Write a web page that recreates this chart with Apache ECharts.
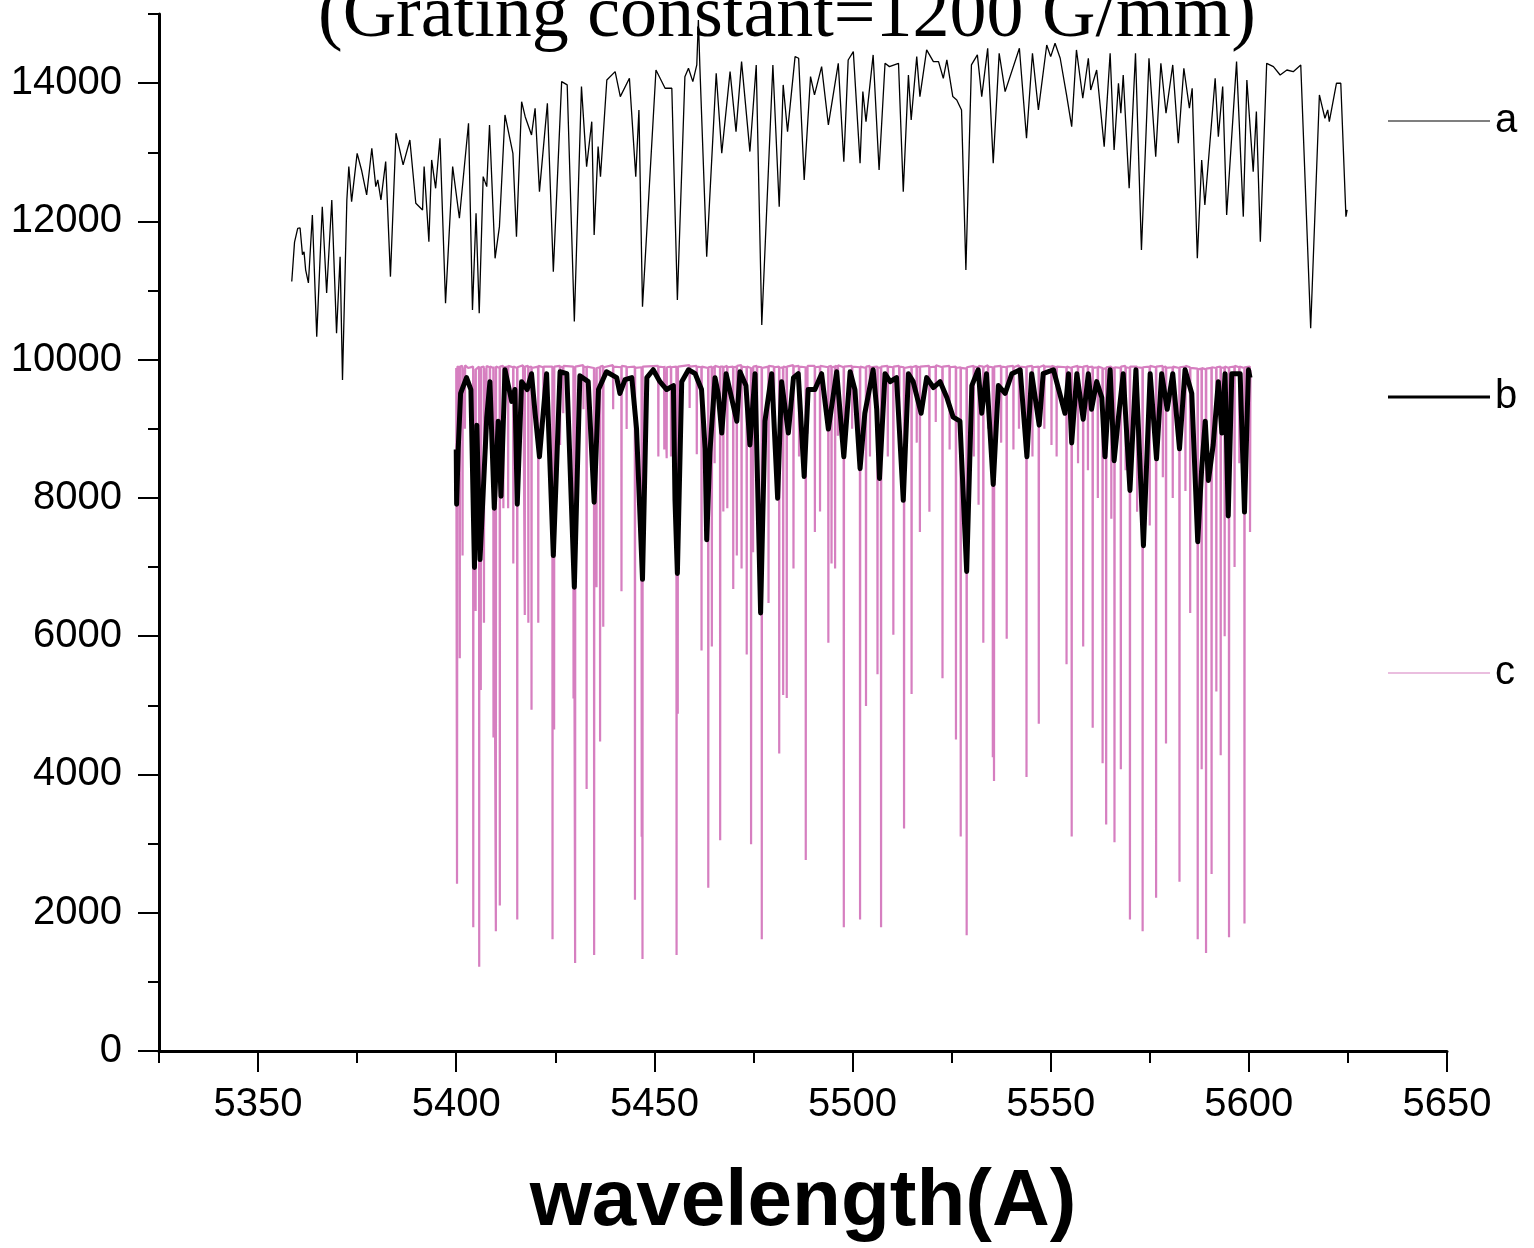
<!DOCTYPE html>
<html>
<head>
<meta charset="utf-8">
<script src="https://cdn.jsdelivr.net/npm/echarts@6/dist/echarts.min.js"></script>
<style>
html,body{margin:0;padding:0;background:#fff;}
#chart{width:1534px;height:1248px;}
</style>
</head>
<body>
<div id="chart"></div>
<script>
// ---- data (wavelength in Angstrom, intensity) ----
var titleText = '(Grating constant=1200 G/mm)';
var xName = 'wavelength(A)';
var seriesNames = ['a', 'b', 'c'];
var yMajorTicks = [0, 2000, 4000, 6000, 8000, 10000, 12000, 14000];
var xMajorTicks = [5350, 5400, 5450, 5500, 5550, 5600, 5650];

var aData = [
[5358.5,11130],[5359.2,11700],[5360.0,11900],[5360.6,11905],[5361.2,11520],[5361.6,11560],[5362.0,11300],[5362.7,11110],
[5363.7,12093],[5364.8,10333],[5366.2,12213],[5367.3,10964],[5368.6,12310],[5369.8,10383],[5370.7,11490],[5371.3,9706],
[5372.4,12310],[5372.9,12792],[5373.6,12286],[5375.0,12985],[5376.1,12744],[5377.4,12382],[5378.7,13058],[5379.7,12503],
[5380.2,12600],[5381.0,12310],[5382.2,12865],[5383.4,11201],[5384.8,13275],[5386.6,12817],[5388.3,13178],[5389.8,12262],
[5391.5,12166],[5391.9,12792],[5393.1,11707],[5393.8,12889],[5394.8,12479],[5395.9,13202],[5397.3,10816],[5399.1,12792],
[5400.8,12045],[5403.1,13419],[5404.1,10719],[5405.0,12117],[5405.8,10671],[5406.8,12648],[5407.7,12503],[5408.4,13395],
[5409.8,11466],[5410.9,11924],[5412.3,13540],[5414.3,12985],[5415.2,11779],[5416.5,13732],[5417.4,13515],[5419.0,13251],
[5419.9,13636],[5421.0,12431],[5423.0,13708],[5424.5,11273],[5426.6,14022],[5428.0,13974],[5429.8,10551],[5431.6,13950],
[5432.9,12792],[5434.2,13443],[5434.8,11804],[5435.8,13082],[5436.4,12648],[5438.0,14046],[5440.1,14166],[5441.4,13805],
[5443.7,14070],[5445.3,12648],[5446.1,13612],[5447.0,10767],[5450.4,14190],[5452.7,13926],[5454.4,13926],[5455.8,10864],
[5457.7,14094],[5458.6,14215],[5459.7,14022],[5460.7,14263],[5461.1,14914],[5461.5,14200],[5463.2,11490],[5465.6,14142],
[5467.0,12985],[5469.1,14166],[5470.6,13299],[5472.0,14311],[5474.1,13010],[5475.7,14263],[5477.1,10502],[5479.9,14263],
[5481.5,12213],[5482.5,13974],[5483.6,13299],[5485.5,14384],[5486.4,14360],[5487.8,12600],[5489.4,14094],[5490.4,13829],
[5492.2,14239],[5493.9,13395],[5496.4,14287],[5497.8,12865],[5498.9,14335],[5500.2,14456],[5501.9,12841],[5502.6,13877],
[5503.4,13443],[5505.2,14408],[5506.7,12744],[5508.2,14287],[5509.3,14239],[5511.6,14287],[5512.8,12431],[5514.1,14118],
[5514.8,13467],[5516.2,14384],[5517.0,13805],[5518.7,14480],[5520.4,14311],[5521.7,14311],[5522.9,14070],[5523.8,14335],
[5525.3,13805],[5526.3,13757],[5527.5,13612],[5528.6,11298],[5530.0,14263],[5531.5,14408],[5532.6,13805],[5534.1,14504],
[5535.5,12841],[5537.0,14432],[5538.5,13877],[5542.1,14504],[5543.9,13202],[5545.4,14432],[5546.9,13612],[5549.0,14552],
[5550.0,14384],[5551.1,14576],[5552.4,14360],[5554.0,13829],[5555.3,13371],[5556.5,14480],[5558.1,13781],[5559.5,14360],
[5560.1,13900],[5561.6,14190],[5563.5,13082],[5565.0,14432],[5566.0,13034],[5567.1,13998],[5567.7,13564],[5568.3,14118],
[5569.8,12479],[5571.4,14432],[5572.9,11587],[5574.8,14360],[5576.5,12937],[5577.8,14287],[5579.1,13564],[5580.8,14263],
[5582.2,13130],[5583.6,14215],[5585.0,13637],[5585.7,13926],[5587.0,11466],[5588.1,12889],[5588.9,12238],[5591.5,14070],
[5592.3,13226],[5593.4,13950],[5594.4,12093],[5596.9,14311],[5598.6,12069],[5599.5,14046],[5601.1,12720],[5601.9,13588],
[5602.9,11707],[5604.5,14287],[5606.2,14239],[5607.9,14118],[5609.6,14190],[5611.2,14166],[5613.1,14263],[5615.6,10454],
[5617.8,13829],[5618.5,13661],[5619.2,13492],[5619.9,13612],[5620.3,13443],[5622.1,13998],[5623.2,13998],[5624.5,12069],
[5624.8,12166]
];

var bData = [
[5400.0,8700],[5400.1,7909],[5400.5,8710],[5401.1,9511],[5402.6,9740],[5403.7,9568],[5404.6,6994],[5405.2,9053],
[5406.0,7108],[5407.7,9168],[5408.5,9682],[5409.6,7852],[5410.6,9110],[5411.3,8024],[5412.3,9854],[5414.0,9396],
[5414.8,9568],[5415.4,7909],[5416.5,9682],[5417.9,9568],[5419.0,9797],[5419.9,9225],[5421.0,8596],[5422.8,9797],
[5424.5,7166],[5426.2,9825],[5427.9,9797],[5429.8,6708],[5431.2,9768],[5433.3,9682],[5434.8,7938],[5435.9,9568],
[5437.9,9825],[5440.5,9740],[5441.3,9511],[5442.6,9711],[5444.3,9740],[5445.5,8996],[5447.0,6822],[5448.1,9740],
[5449.7,9854],[5451.4,9682],[5453.1,9568],[5454.8,9625],[5455.2,7966],[5455.8,6908],[5456.9,9682],[5458.6,9854],
[5460.3,9797],[5461.9,9568],[5462.8,8710],[5463.2,7394],[5464.0,8653],[5465.3,9740],[5466.1,9511],[5467.0,8939],
[5468.1,9797],[5470.8,9110],[5471.6,9825],[5473.1,9625],[5474.1,8767],[5475.4,9797],[5476.8,6336],[5477.9,9110],
[5479.6,9797],[5481.1,7995],[5482.1,9682],[5483.8,8939],[5485.1,9740],[5486.3,9797],[5487.8,8310],[5488.8,9568],
[5490.5,9568],[5492.2,9797],[5493.9,8996],[5496.0,9825],[5497.8,8596],[5499.4,9825],[5500.6,9568],[5501.9,8424],
[5503.1,9225],[5505.2,9854],[5506.1,9282],[5506.8,8281],[5508.2,9797],[5509.5,9682],[5511.1,9740],[5512.8,7966],
[5514.1,9797],[5515.3,9682],[5517.3,9225],[5518.7,9740],[5520.4,9597],[5522.1,9682],[5523.8,9454],[5525.4,9168],
[5527.1,9110],[5528.8,6937],[5530.1,9625],[5531.7,9854],[5532.6,9225],[5533.8,9797],[5535.5,8195],[5536.8,9625],
[5538.5,9511],[5540.2,9797],[5542.3,9854],[5544.0,8596],[5545.2,9797],[5547.1,9053],[5548.1,9797],[5550.7,9854],
[5553.6,9225],[5554.5,9797],[5555.3,8796],[5556.6,9797],[5558.2,9139],[5559.5,9797],[5560.3,9282],[5561.6,9682],
[5562.9,9454],[5563.7,8596],[5565.0,9854],[5566.0,8538],[5567.1,9168],[5568.3,9797],[5570.0,8109],[5571.5,9854],
[5573.4,7309],[5575.1,9797],[5576.7,8567],[5578.0,9797],[5579.4,9282],[5580.8,9797],[5582.5,8710],[5583.9,9854],
[5585.6,9511],[5587.1,7366],[5588.1,8424],[5589.0,9110],[5589.8,8252],[5591.0,8767],[5592.3,9682],[5593.2,8939],
[5594.0,9797],[5594.8,7738],[5595.7,9797],[5597.8,9797],[5598.9,7795],[5599.9,9854],[5600.3,9740]
];

var cData = [
[5400.0,9880],[5400.2,2418],[5400.3,9900],[5400.85,9890],[5400.9,5680],[5400.95,9900],
[5401.55,9910],[5401.6,7166],[5401.65,9890],[5402.15,9900],[5402.2,9000],[5402.25,9920],
[5403.0,9880],[5404.25,9900],[5404.3,1789],[5404.35,9870],[5404.85,9880],[5404.9,6366],[5404.95,9860],
[5405.75,9900],[5405.8,1217],[5405.85,9880],[5406.15,9870],[5406.2,5221],[5406.25,9890],
[5406.95,9900],[5407.0,6193],[5407.05,9880],[5407.55,9900],[5407.6,8710],[5407.65,9910],
[5408.45,9890],[5408.5,8996],[5408.55,9900],[5409.35,9880],[5409.4,4534],[5409.45,9900],
[5409.95,9890],[5410.0,1732],[5410.05,9900],[5410.95,9880],[5411.0,2104],[5411.05,9900],
[5411.85,9910],[5411.9,7852],[5411.95,9890],[5413.05,9900],[5413.1,7852],[5413.15,9910],
[5414.35,9890],[5414.4,7051],[5414.45,9900],[5415.35,9880],[5415.4,1903],[5415.45,9890],
[5416.85,9920],[5416.9,9225],[5416.95,9900],[5417.25,9890],[5417.3,6308],[5417.35,9900],
[5418.15,9910],[5418.2,6193],[5418.25,9890],[5418.95,9900],[5419.0,4935],[5419.05,9880],
[5420.65,9900],[5420.7,6193],[5420.75,9910],[5421.95,9890],[5422.0,9282],[5422.05,9900],
[5424.25,9900],[5424.3,1617],[5424.35,9880],[5424.65,9890],[5424.7,4650],[5424.75,9900],
[5426.15,9910],[5426.2,8767],[5426.25,9900],[5426.95,9890],[5427.0,9225],[5427.05,9910],
[5429.55,9900],[5429.6,5100],[5429.65,9890],[5429.95,9880],[5430.0,1274],[5430.05,9900],
[5432.05,9920],[5432.1,9282],[5432.15,9900],[5432.85,9890],[5432.9,3791],[5432.95,9900],
[5434.75,9880],[5434.8,1388],[5434.85,9890],[5435.35,9900],[5435.4,6708],[5435.45,9880],
[5436.25,9890],[5436.3,4477],[5436.35,9900],[5437.05,9910],[5437.1,6136],[5437.15,9890],
[5439.55,9920],[5439.6,9282],[5439.65,9900],[5441.65,9890],[5441.7,6651],[5441.75,9910],
[5442.95,9900],[5443.0,8996],[5443.05,9890],[5445.05,9900],[5445.1,2189],[5445.15,9880],
[5446.75,9890],[5446.8,3100],[5446.85,9880],[5446.95,9870],[5447.0,1331],[5447.05,9900],
[5450.95,9910],[5451.0,8600],[5451.05,9900],[5452.45,9890],[5452.5,8700],[5452.55,9910],
[5453.05,9900],[5453.1,8573],[5453.15,9890],
[5454.15,9900],[5454.2,8600],[5454.25,9890],[5455.55,9900],[5455.6,1388],[5455.65,9880],
[5455.85,9890],[5455.9,4880],[5455.95,9900],[5458.85,9920],[5458.9,9300],[5458.95,9900],
[5460.65,9910],[5460.7,8632],[5460.75,9900],[5461.85,9890],[5461.9,5793],[5461.95,9900],
[5463.55,9880],[5463.6,2361],[5463.65,9890],[5464.45,9900],[5464.5,5850],[5464.55,9880],
[5465.15,9900],[5465.2,8500],[5465.25,9910],[5466.55,9890],[5466.6,3047],[5466.65,9900],
[5467.35,9900],[5467.4,7805],[5467.45,9890],
[5468.35,9910],[5468.4,7852],[5468.45,9890],[5469.85,9900],[5469.9,6684],[5469.95,9890],
[5470.75,9900],[5470.8,7166],[5470.85,9910],
[5471.95,9920],[5472.0,6979],[5472.05,9900],[5473.25,9890],[5473.3,5736],[5473.35,9900],
[5474.35,9880],[5474.4,2990],[5474.45,9890],[5474.85,9890],[5474.9,7215],[5474.95,9900],
[5475.85,9910],[5475.9,8400],[5475.95,9900],
[5477.05,9890],[5477.1,1617],[5477.15,9880],[5478.75,9900],[5478.8,6479],[5478.85,9910],
[5480.15,9900],[5480.2,8700],[5480.25,9890],[5481.45,9900],[5481.5,4305],[5481.55,9880],
[5482.45,9890],[5482.5,5149],[5482.55,9900],
[5483.35,9890],[5483.4,5106],[5483.45,9900],[5485.05,9920],[5485.1,6979],[5485.15,9900],
[5486.45,9910],[5486.5,8600],[5486.55,9900],[5488.15,9890],[5488.2,2761],[5488.25,9900],
[5488.55,9900],[5488.6,8927],[5488.65,9910],
[5490.45,9910],[5490.5,7509],[5490.55,9890],[5491.75,9900],[5491.8,7805],[5491.85,9910],
[5493.85,9890],[5493.9,5907],[5493.95,9900],[5494.65,9910],[5494.7,7051],[5494.75,9890],
[5495.55,9900],[5495.6,6979],[5495.65,9910],
[5496.25,9900],[5496.3,8900],[5496.35,9920],[5497.75,9890],[5497.8,1789],[5497.85,9900],
[5499.85,9910],[5499.9,9000],[5499.95,9900],[5501.85,9890],[5501.9,1903],[5501.95,9900],
[5503.35,9880],[5503.4,4992],[5503.45,9900],[5504.35,9910],[5504.4,8600],[5504.45,9890],
[5506.25,9900],[5506.3,5450],[5506.35,9880],[5507.15,9890],[5507.2,1789],[5507.25,9900],
[5508.85,9910],[5508.9,8600],[5508.95,9900],[5510.25,9890],[5510.3,6022],[5510.35,9900],
[5511.75,9910],[5511.8,8800],[5511.85,9900],[5512.95,9890],[5513.0,3219],[5513.05,9880],
[5514.85,9900],[5514.9,5164],[5514.95,9890],[5516.15,9910],[5516.2,8800],[5516.25,9900],
[5516.95,9890],[5517.0,7509],[5517.05,9900],[5519.35,9910],[5519.4,7800],[5519.45,9890],
[5520.95,9900],[5521.0,9100],[5521.05,9920],[5522.65,9890],[5522.7,5392],[5522.75,9900],
[5524.45,9910],[5524.5,8700],[5524.55,9890],[5526.05,9900],[5526.1,4506],[5526.15,9880],
[5527.25,9890],[5527.3,3104],[5527.35,9880],[5528.75,9870],[5528.8,1674],[5528.85,9890],
[5530.55,9910],[5530.6,8600],[5530.65,9900],[5531.75,9890],[5531.8,7900],[5531.85,9910],
[5532.95,9900],[5533.0,5907],[5533.05,9890],[5534.15,9920],[5534.2,9000],[5534.25,9900],
[5535.35,9890],[5535.4,4248],[5535.45,9880],[5535.65,9880],[5535.7,3905],[5535.75,9900],
[5537.45,9910],[5537.5,8800],[5537.55,9900],[5538.85,9890],[5538.9,5964],[5538.95,9900],
[5540.55,9910],[5540.6,8700],[5540.65,9890],[5541.95,9920],[5542.0,9000],[5542.05,9900],
[5543.85,9890],[5543.9,3962],[5543.95,9900],[5545.35,9910],[5545.4,8600],[5545.45,9890],
[5546.95,9900],[5547.0,4735],[5547.05,9890],[5548.35,9920],[5548.4,9000],[5548.45,9900],
[5550.15,9900],[5550.2,8767],[5550.25,9910],[5551.45,9890],[5551.5,8600],[5551.55,9900],
[5553.95,9890],[5554.0,5593],[5554.05,9900],[5555.25,9880],[5555.3,3104],[5555.35,9890],
[5556.85,9910],[5556.9,8500],[5556.95,9900],[5558.15,9890],[5558.2,5850],[5558.25,9900],
[5559.35,9910],[5559.4,8400],[5559.45,9890],[5560.55,9900],[5560.6,4677],[5560.65,9880],
[5561.85,9890],[5561.9,8000],[5561.95,9900],[5563.05,9880],[5563.1,4163],[5563.15,9870],
[5563.95,9870],[5564.0,3276],[5564.05,9890],[5565.25,9900],[5565.3,7700],[5565.35,9880],
[5566.05,9880],[5566.1,3019],[5566.15,9890],[5567.65,9880],[5567.7,4077],[5567.75,9900],
[5568.85,9910],[5568.9,8400],[5568.95,9890],[5569.95,9880],[5570.0,1903],[5570.05,9900],
[5571.75,9900],[5571.8,7800],[5571.85,9890],[5573.15,9880],[5573.2,1732],[5573.25,9890],
[5574.95,9900],[5575.0,7600],[5575.05,9910],[5576.55,9890],[5576.6,2218],[5576.65,9900],
[5578.25,9910],[5578.3,8300],[5578.35,9890],[5579.05,9900],[5579.1,4449],[5579.15,9880],
[5580.75,9890],[5580.8,8000],[5580.85,9900],[5582.45,9880],[5582.5,2447],[5582.55,9890],
[5583.95,9900],[5584.0,8100],[5584.05,9910],[5585.15,9890],[5585.2,6336],[5585.25,9880],
[5587.05,9870],[5587.1,1617],[5587.15,9860],[5588.05,9870],[5588.1,4077],[5588.15,9880],
[5589.15,9860],[5589.2,1417],[5589.25,9870],[5590.55,9880],[5590.6,2561],[5590.65,9890],
[5591.75,9880],[5591.8,5200],[5591.85,9890],[5592.85,9900],[5592.9,4277],[5592.95,9880],
[5593.85,9890],[5593.9,6000],[5593.95,9900],[5594.95,9880],[5595.0,1646],[5595.05,9890],
[5596.35,9900],[5596.4,7000],[5596.45,9910],[5597.55,9890],[5597.6,8500],[5597.65,9900],
[5598.85,9880],[5598.9,1846],[5598.95,9890],[5600.25,9900],[5600.3,7509],[5600.4,9850]
];

// ---- chart ----
var chart = echarts.init(document.getElementById('chart'), null, {renderer: 'canvas'});
var axisFont = {fontFamily: 'Liberation Sans', fontSize: 40, color: '#000', lineHeight: 40};
var legendText = {fontFamily: 'Liberation Sans', fontSize: 40, color: '#000', lineHeight: 40};
function legendFor(name, centerY, thickness) {
  return {
    orient: 'vertical', left: 1388, top: centerY - 20, padding: 0,
    itemWidth: 102, itemHeight: thickness, icon: 'rect',
    data: [name], textStyle: legendText, selectedMode: false
  };
}
var option = {
  animation: false,
  backgroundColor: '#fff',
  title: {
    text: titleText, left: 318, top: -20, padding: 0,
    textStyle: {fontFamily: 'Liberation Serif', fontSize: 74, fontWeight: 'normal', color: '#000', lineHeight: 74}
  },
  legend: [legendFor(seriesNames[0], 121, 1.2), legendFor(seriesNames[1], 397, 3), legendFor(seriesNames[2], 673, 1.2)],
  grid: {left: 159, right: 87, top: 14, bottom: 197, containLabel: false, outerBoundsMode: 'none'},
  xAxis: [{
    type: 'value', min: 5325, max: 5650, interval: 25, position: 'bottom',
    name: xName, nameLocation: 'middle', nameGap: 112,
    nameTextStyle: {fontFamily: 'Liberation Sans', fontSize: 80, fontWeight: 'bold', color: '#000', lineHeight: 80},
    axisLine: {show: true, onZero: false, lineStyle: {color: '#000', width: 3}},
    axisTick: {show: true, length: 12, lineStyle: {color: '#000', width: 2}},
    axisLabel: Object.assign({margin: 34, formatter: function (v) { return v % 50 === 0 ? String(v) : ''; }}, axisFont),
    splitLine: {show: false}
  }, {
    type: 'value', min: 5325, max: 5650, interval: 25, position: 'bottom',
    axisLine: {show: false},
    axisTick: {show: true, length: 21, customValues: xMajorTicks, lineStyle: {color: '#000', width: 2}},
    axisLabel: {show: false},
    splitLine: {show: false}
  }],
  yAxis: [{
    type: 'value', min: 0, max: 15000, interval: 1000, position: 'left',
    axisLine: {show: true, onZero: false, lineStyle: {color: '#000', width: 3}},
    axisTick: {show: true, length: 11, lineStyle: {color: '#000', width: 2}},
    axisLabel: Object.assign({margin: 37, formatter: function (v) { return v % 2000 === 0 ? String(v) : ''; }}, axisFont),
    splitLine: {show: false}
  }, {
    type: 'value', min: 0, max: 15000, interval: 1000, position: 'left',
    axisLine: {show: false},
    axisTick: {show: true, length: 21, customValues: yMajorTicks, lineStyle: {color: '#000', width: 2}},
    axisLabel: {show: false},
    splitLine: {show: false}
  }],
  series: [{
    name: 'a', type: 'line', data: aData, symbol: 'none', showSymbol: false, z: 3,
    xAxisIndex: 0, yAxisIndex: 0,
    lineStyle: {color: '#000', width: 1.3}, itemStyle: {color: '#000'}
  }, {
    name: 'c', type: 'line', data: cData, symbol: 'none', showSymbol: false, z: 2,
    xAxisIndex: 0, yAxisIndex: 0,
    lineStyle: {color: '#d67fc0', width: 2.2}, itemStyle: {color: '#d67fc0'}
  }, {
    name: 'b', type: 'line', data: bData, symbol: 'none', showSymbol: false, z: 4,
    xAxisIndex: 0, yAxisIndex: 0,
    lineStyle: {color: '#000', width: 5, join: 'round'}, itemStyle: {color: '#000'}
  }]
};
chart.setOption(option);
</script>
</body>
</html>
